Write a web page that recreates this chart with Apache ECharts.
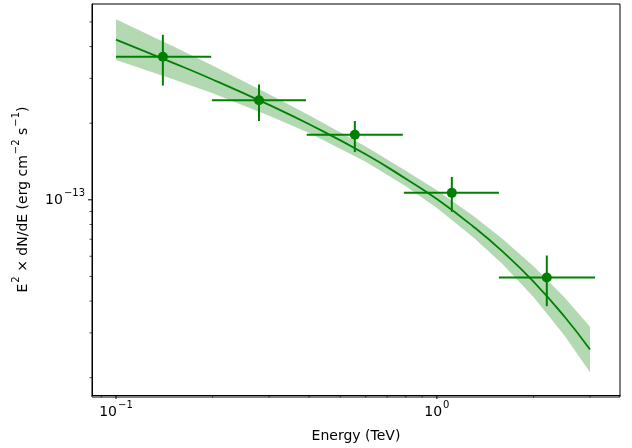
<!DOCTYPE html>
<html>
<head>
<meta charset="utf-8">
<script src="https://cdn.jsdelivr.net/npm/echarts@6/dist/echarts.min.js"></script>
<style>html,body{margin:0;padding:0;background:#fff}#chart{width:632px;height:448px}</style>
</head>
<body>
<div id="chart"></div>
<script>
// flux points (TeV, erg cm^-2 s^-1)
var pointE = [0.140, 0.279, 0.555, 1.113, 2.20];
var pointELo = [0.100, 0.199, 0.393, 0.789, 1.56];
var pointEHi = [0.198, 0.391, 0.783, 1.56, 3.11];
var pointF = [3.65e-13, 2.46e-13, 1.80e-13, 1.065e-13, 4.95e-14];
var pointFLo = [2.81e-13, 2.04e-13, 1.54e-13, 8.97e-14, 3.82e-14];
var pointFHi = [4.45e-13, 2.84e-13, 2.04e-13, 1.23e-13, 6.04e-14];

// model curve and its error band
var modelE = [0.1, 0.15, 0.2, 0.3, 0.4, 0.6, 0.8, 1.0, 1.3, 1.6, 2.0, 2.5, 3.0];
var modelF = [4.26e-13, 3.46e-13, 2.97e-13, 2.36e-13, 1.98e-13, 1.51e-13, 1.21e-13, 1.007e-13, 7.84e-14, 6.27e-14, 4.77e-14, 3.47e-14, 2.58e-14];
var bandHi = [5.12e-13, 4.02e-13, 3.37e-13, 2.60e-13, 2.15e-13, 1.62e-13, 1.30e-13, 1.09e-13, 8.64e-14, 7.03e-14, 5.48e-14, 4.13e-14, 3.17e-14];
var bandLo = [3.54e-13, 2.98e-13, 2.62e-13, 2.14e-13, 1.83e-13, 1.41e-13, 1.13e-13, 9.29e-14, 7.11e-14, 5.59e-14, 4.15e-14, 2.92e-14, 2.10e-14];

// tick marks
var xMajor = [0.1, 1];
var xMajorLabels = ['{b|10}{s|\u22121}', '{b|10}{s|0}'];
var xMinor = [0.09, 0.2, 0.3, 0.4, 0.5, 0.6, 0.7, 0.8, 0.9, 2, 3];
var yMajor = [1e-13];
var yMajorLabels = ['{b|10}{s|\u221213}'];
var yMinor = [2e-14, 3e-14, 4e-14, 5e-14, 6e-14, 7e-14, 8e-14, 9e-14, 2e-13, 3e-13, 4e-13, 5e-13];

var green = '#008000';
var font = 'DejaVu Sans';
var rich = {
    b: {fontFamily: font, fontSize: 14, color: '#000', lineHeight: 19, verticalAlign: 'bottom'},
    s: {fontFamily: font, fontSize: 10, color: '#000', lineHeight: 19, verticalAlign: 'top', padding: [0, 0, 0, 1]}
};
var chart = echarts.init(document.getElementById('chart'));

var errData = pointE.map(function (e, i) {
    return [e, pointF[i], pointELo[i], pointEHi[i], pointFLo[i], pointFHi[i]];
});
var bandData = modelE.map(function (e, i) { return [e, bandLo[i], bandHi[i]]; });

function tickData(vals, major, labels) {
    return vals.map(function (v, i) { return [v, major ? 1 : 0, major ? labels[i] : '']; });
}
var xTicks = tickData(xMajor, true, xMajorLabels).concat(tickData(xMinor, false));
var yTicks = tickData(yMajor, true, yMajorLabels).concat(tickData(yMinor, false));

chart.setOption({
    animation: false,
    grid: {left: 92, right: 12, top: 4, bottom: 51},
    xAxis: {
        type: 'log', min: 0.0842, max: 3.72,
        axisLine: {onZero: false, lineStyle: {color: '#000', width: 1}},
        axisTick: {show: false}, axisLabel: {show: false}, splitLine: {show: false},
        name: 'Energy (TeV)', nameLocation: 'middle', nameGap: 34,
        nameTextStyle: {fontFamily: font, fontSize: 14, color: '#000'}
    },
    yAxis: {
        type: 'log', min: 1.71e-14, max: 5.88e-13,
        axisLine: {show: true, lineStyle: {color: '#000', width: 1}},
        axisTick: {show: false}, axisLabel: {show: false}, splitLine: {show: false},
        name: '{b|E}{s|2}{b| \u00D7 dN/dE (erg cm}{s|\u22122}{b| s}{s|\u22121}{b|)}',
        nameLocation: 'middle', nameGap: 62,
        nameTextStyle: {rich: rich}
    },
    series: [
        {
            type: 'custom', data: bandData, silent: true,
            renderItem: function (params, api) {
                if (params.dataIndex !== 0) return;
                var up = [], lo = [];
                for (var i = 0; i < bandData.length; i++) {
                    up.push(api.coord([bandData[i][0], bandData[i][2]]));
                    lo.unshift(api.coord([bandData[i][0], bandData[i][1]]));
                }
                return {type: 'polygon', shape: {points: up.concat(lo)},
                    style: {fill: green, opacity: 0.3}};
            }
        },
        {
            type: 'line', data: modelE.map(function (e, i) { return [e, modelF[i]]; }),
            smooth: 0.5, showSymbol: false, lineStyle: {color: green, width: 1.8}
        },
        {
            type: 'custom', data: errData,
            renderItem: function (params, api) {
                var c = api.coord([api.value(0), api.value(1)]);
                var xl = api.coord([api.value(2), api.value(1)]);
                var xh = api.coord([api.value(3), api.value(1)]);
                var yl = api.coord([api.value(0), api.value(4)]);
                var yh = api.coord([api.value(0), api.value(5)]);
                var st = {stroke: green, lineWidth: 2};
                return {type: 'group', children: [
                    {type: 'line', shape: {x1: xl[0], y1: xl[1], x2: xh[0], y2: xh[1]}, style: st},
                    {type: 'line', shape: {x1: yl[0], y1: yl[1], x2: yh[0], y2: yh[1]}, style: st},
                    {type: 'circle', shape: {cx: c[0], cy: c[1], r: 5}, style: {fill: green}}
                ]};
            }
        },
        {
            type: 'custom', data: xTicks, clip: false, silent: true,
            renderItem: function (params, api) {
                var cs = params.coordSys;
                var p = api.coord([api.value(0), 1e-13]);
                var b = cs.y + cs.height;
                var major = api.value(1) === 1;
                var ch = [{type: 'line', shape: {x1: p[0], y1: b, x2: p[0], y2: b + (major ? 4 : 2.5)},
                    style: {stroke: '#000', lineWidth: major ? 1 : 0.7}}];
                if (major) ch.push({type: 'text', x: p[0], y: b + 5,
                    style: {text: xTicks[params.dataIndex][2], rich: rich,
                        align: 'center', verticalAlign: 'top'}});
                return {type: 'group', children: ch};
            }
        },
        {
            type: 'custom', data: yTicks, clip: false, silent: true,
            renderItem: function (params, api) {
                var cs = params.coordSys;
                var p = api.coord([1, api.value(0)]);
                var l = cs.x;
                var major = api.value(1) === 1;
                var ch = [{type: 'line', shape: {x1: l, y1: p[1], x2: l - (major ? 4 : 2.5), y2: p[1]},
                    style: {stroke: '#000', lineWidth: major ? 1 : 0.7}}];
                if (major) ch.push({type: 'text', x: l - 7, y: p[1] - 2,
                    style: {text: yTicks[params.dataIndex][2], rich: rich,
                        align: 'right', verticalAlign: 'middle'}});
                return {type: 'group', children: ch};
            }
        }
    ]
});
// box frame on top/right
chart.setOption({
    graphic: [{type: 'rect', shape: {x: 92, y: 4, width: 528, height: 393},
        style: {fill: 'none', stroke: '#000', lineWidth: 1}, silent: true}]
});
</script>
</body>
</html>
